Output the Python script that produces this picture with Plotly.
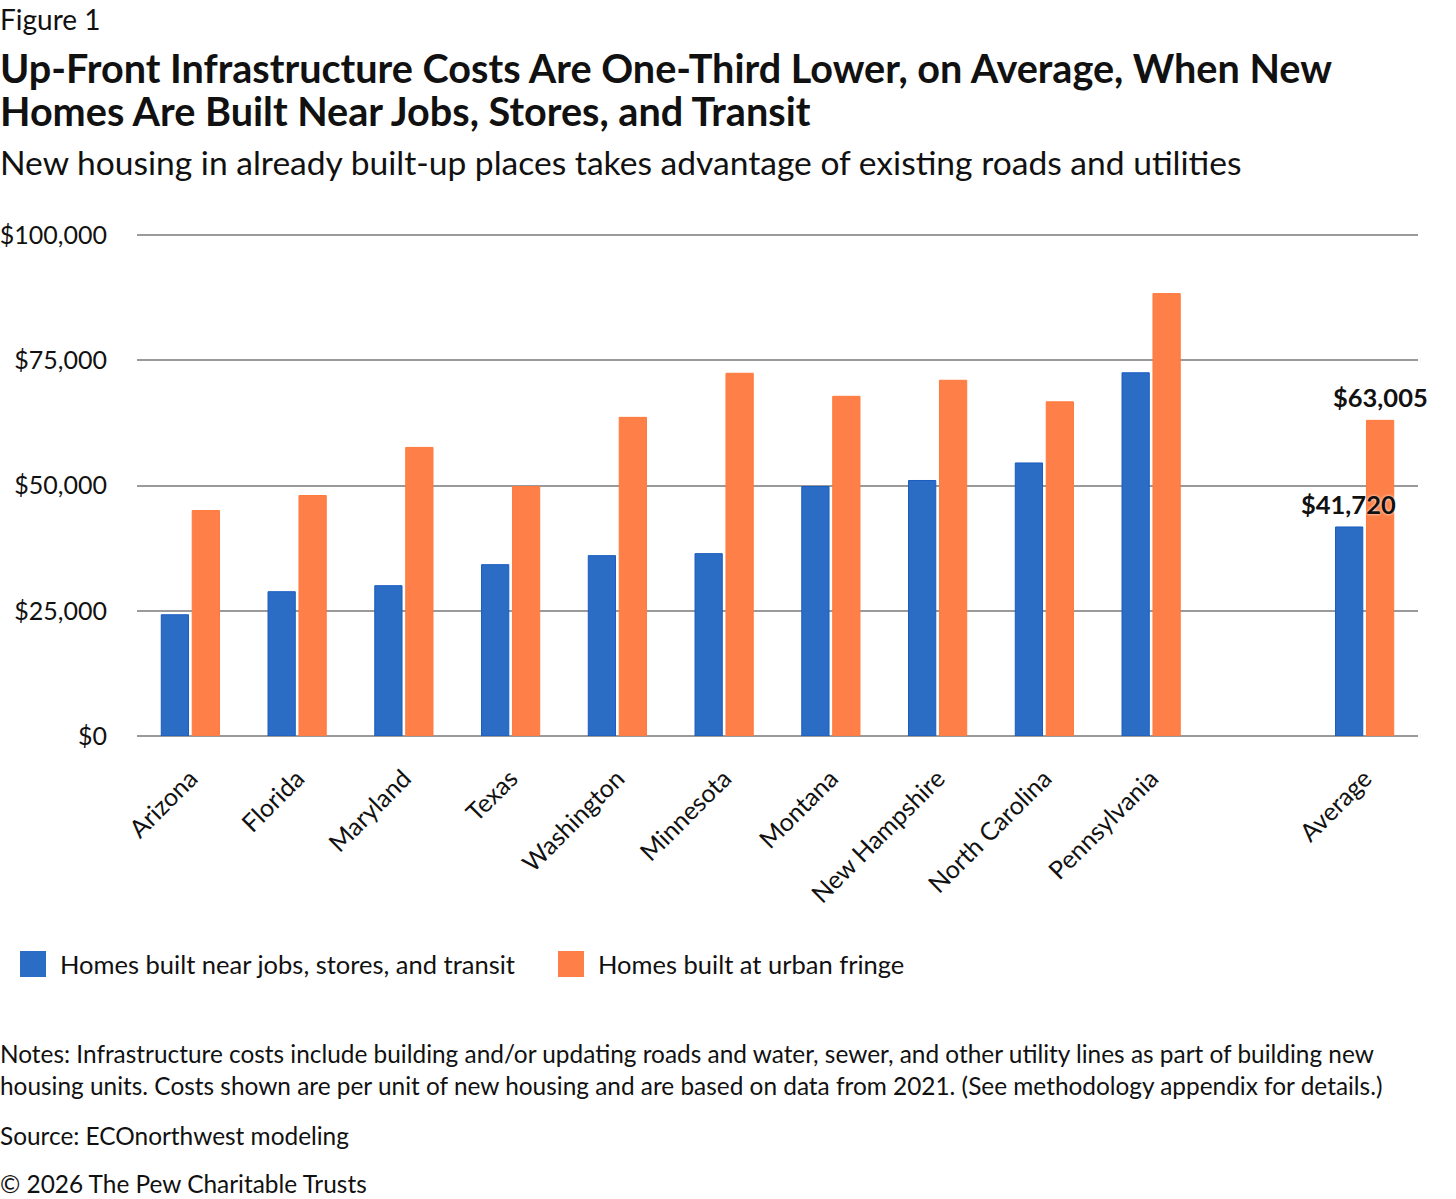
import plotly.graph_objects as go

# values (per unit infrastructure cost, $)
states = ["Arizona", "Florida", "Maryland", "Texas", "Washington", "Minnesota",
          "Montana", "New Hampshire", "North Carolina", "Pennsylvania", " ", "Average"]
near_jobs = [24200, 28800, 30000, 34200, 36000, 36400, 49800, 51000, 54500, 72500, None, 41720]
urban_fringe = [45000, 48000, 57600, 49800, 63600, 72400, 67800, 71000, 66700, 88300, None, 63005]
series_names = ["Homes built near jobs, stores, and transit", "Homes built at urban fringe"]

yticks = [0, 25000, 50000, 75000, 100000]
ytick_text = ["$0", "$25,000", "$50,000", "$75,000", "$100,000"]

BLUE = "#2b6cc4"
ORANGE = "#ff7f48"
FONT = "Lato"
INK = "#111111"

W, H = 1456, 1199
L, R, T, B = 137, 38, 233, 463


def px(x):
    return (x - L) / (W - L - R)


def py(y):
    return (H - B - y) / (H - T - B)


fig = go.Figure()
fig.add_trace(go.Bar(
    x=states, y=near_jobs, name=series_names[0], showlegend=False,
    marker=dict(color=BLUE, line=dict(color="#1a5cc0", width=1)),
))
fig.add_trace(go.Bar(
    x=states, y=urban_fringe, name=series_names[1], showlegend=False,
    marker=dict(color=ORANGE, line=dict(color="#ff7a3c", width=1)),
))

# value labels on the Average pair, drawn on top with a white halo
for val, shift in [(near_jobs[-1], -16), (urban_fringe[-1], 16)]:
    fig.add_annotation(
        x=states[-1], y=val, text="${:,}".format(val), showarrow=False,
        xshift=shift, yshift=6, yanchor="bottom",
        font=dict(family=FONT, size=25.5, color=INK, weight="bold",
                  shadow="0px 0px 3px white"),
    )

fig.update_layout(
    width=W, height=H,
    margin=dict(l=L, r=R, t=T, b=B, autoexpand=False),
    paper_bgcolor="white", plot_bgcolor="white",
    font=dict(family=FONT, size=25, color=INK),
    barmode="group", bargap=0.42, bargroupgap=0.12,
    showlegend=False,
)
fig.update_xaxes(
    categoryorder="array", categoryarray=states, automargin=False,
    range=[-0.5, len(states) - 0.5],
    tickangle=-45, showgrid=False, showline=False, ticks="",
    ticklabelstandoff=22,
    tickfont=dict(family=FONT, size=25, color=INK),
)
fig.update_yaxes(
    range=[0, 100400], tickvals=yticks, ticktext=ytick_text, automargin=False,
    showgrid=True, gridcolor="#9a9a9a", gridwidth=1.5,
    zeroline=True, zerolinecolor="#9a9a9a", zerolinewidth=1.5,
    showline=False, ticks="", ticklabelstandoff=29,
    tickfont=dict(family=FONT, size=25, color=INK),
)

# legend drawn by hand so the swatches are as large as in the original
legend_x = [20, 558]
for name, color, lx in zip(series_names, [BLUE, ORANGE], legend_x):
    fig.add_shape(type="rect", xref="paper", yref="paper",
                  x0=px(lx), x1=px(lx + 26), y0=py(951), y1=py(977),
                  fillcolor=color, line=dict(width=0))
    fig.add_annotation(text=name, xref="paper", yref="paper",
                       x=px(lx + 38), y=py(964), xanchor="left", yanchor="middle",
                       showarrow=False, font=dict(family=FONT, size=25.5, color=INK))

texts = [
    ("Figure 1", 19, 28, "normal"),
    ("Up-Front Infrastructure Costs Are One-Third Lower, on Average, When New", 67, 39.6, "bold"),
    ("Homes Are Built Near Jobs, Stores, and Transit", 110, 39.6, "bold"),
    ("New housing in already built-up places takes advantage of existing roads and utilities", 162, 33.6, "normal"),
    ("Notes: Infrastructure costs include building and/or updating roads and water, sewer, and other utility lines as part of building new", 1053, 24.4, "normal"),
    ("housing units. Costs shown are per unit of new housing and are based on data from 2021. (See methodology appendix for details.)", 1085, 24.4, "normal"),
    ("Source: ECOnorthwest modeling", 1135, 24.4, "normal"),
    ("\u00a9 2026 The Pew Charitable Trusts", 1183, 24.4, "normal"),
]
for t, y, size, weight in texts:
    fig.add_annotation(
        text=t, xref="paper", yref="paper", x=px(-2), y=py(y),
        xanchor="left", yanchor="middle", showarrow=False,
        font=dict(family=FONT, size=size, color=INK, weight=weight),
    )

fig.write_html("out.html", config={"displayModeBar": False},
               post_script="document.body.style.margin='0px';")
